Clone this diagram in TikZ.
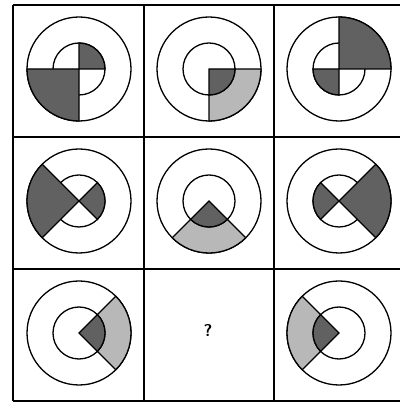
\documentclass[tikz,border=0pt]{standalone}
\usepackage{tikz}

\begin{document}
\begin{tikzpicture}[
  x=1pt, y=1pt,
  grid/.style={line width=1.7pt, black},
  ring/.style={line width=1.3pt, black},
  dark/.style={ring, fill=black!62},
  light/.style={ring, fill=black!28},
  qmark/.style={font=\sffamily\bfseries\fontsize{17}{17}\selectfont, inner sep=0pt}
]
\useasboundingbox (0,0) rectangle (400,403);
% grid
\draw[grid] (13,2) -- (13,398);
\draw[grid] (144,2) -- (144,398);
\draw[grid] (274,2) -- (274,398);
\draw[grid] (13,398) -- (400,398);
\draw[grid] (13,266) -- (400,266);
\draw[grid] (13,134) -- (400,134);
\draw[grid] (13,2) -- (400,2);
% row 1
\begin{scope}[shift={(79,334)}]
\coordinate (c11) at (0,0);
\draw[ring] (0,0) circle[radius=52] (0,0) circle[radius=26];
\filldraw[dark] (0,0) -- (180:52) arc[start angle=180, end angle=270, radius=52] -- cycle;
\filldraw[dark] (0,0) -- (0:26) arc[start angle=0, end angle=90, radius=26] -- cycle;
\end{scope}
\begin{scope}[shift={(209,334)}]
\coordinate (c12) at (0,0);
\draw[ring] (0,0) circle[radius=52] (0,0) circle[radius=26];
\filldraw[light] (270:26) -- (270:52) arc[start angle=270, end angle=360, radius=52] -- (0:26) arc[start angle=360, end angle=270, radius=26] -- cycle;
\filldraw[dark] (0,0) -- (270:26) arc[start angle=270, end angle=360, radius=26] -- cycle;
\end{scope}
\begin{scope}[shift={(339,334)}]
\coordinate (c13) at (0,0);
\draw[ring] (0,0) circle[radius=52] (0,0) circle[radius=26];
\filldraw[dark] (0,0) -- (0:52) arc[start angle=0, end angle=90, radius=52] -- cycle;
\filldraw[dark] (0,0) -- (180:26) arc[start angle=180, end angle=270, radius=26] -- cycle;
\end{scope}
% row 2
\begin{scope}[shift={(79,202)}]
\coordinate (c21) at (0,0);
\draw[ring] (0,0) circle[radius=52] (0,0) circle[radius=26];
\filldraw[dark] (0,0) -- (135:52) arc[start angle=135, end angle=225, radius=52] -- cycle;
\filldraw[dark] (0,0) -- (-45:26) arc[start angle=-45, end angle=45, radius=26] -- cycle;
\end{scope}
\begin{scope}[shift={(209,202)}]
\coordinate (c22) at (0,0);
\draw[ring] (0,0) circle[radius=52] (0,0) circle[radius=26];
\filldraw[light] (225:26) -- (225:52) arc[start angle=225, end angle=315, radius=52] -- (315:26) arc[start angle=315, end angle=225, radius=26] -- cycle;
\filldraw[dark] (0,0) -- (225:26) arc[start angle=225, end angle=315, radius=26] -- cycle;
\end{scope}
\begin{scope}[shift={(339,202)}]
\coordinate (c23) at (0,0);
\draw[ring] (0,0) circle[radius=52] (0,0) circle[radius=26];
\filldraw[dark] (0,0) -- (-45:52) arc[start angle=-45, end angle=45, radius=52] -- cycle;
\filldraw[dark] (0,0) -- (135:26) arc[start angle=135, end angle=225, radius=26] -- cycle;
\end{scope}
% row 3
\begin{scope}[shift={(79,70)}]
\coordinate (c31) at (0,0);
\draw[ring] (0,0) circle[radius=52] (0,0) circle[radius=26];
\filldraw[light] (-45:26) -- (-45:52) arc[start angle=-45, end angle=45, radius=52] -- (45:26) arc[start angle=45, end angle=-45, radius=26] -- cycle;
\filldraw[dark] (0,0) -- (-45:26) arc[start angle=-45, end angle=45, radius=26] -- cycle;
\end{scope}
\node[qmark] (ask) at (208,72) {?};
\begin{scope}[shift={(339,70)}]
\coordinate (c33) at (0,0);
\draw[ring] (0,0) circle[radius=52] (0,0) circle[radius=26];
\filldraw[light] (135:26) -- (135:52) arc[start angle=135, end angle=225, radius=52] -- (225:26) arc[start angle=225, end angle=135, radius=26] -- cycle;
\filldraw[dark] (0,0) -- (135:26) arc[start angle=135, end angle=225, radius=26] -- cycle;
\end{scope}
\end{tikzpicture}
\end{document}
